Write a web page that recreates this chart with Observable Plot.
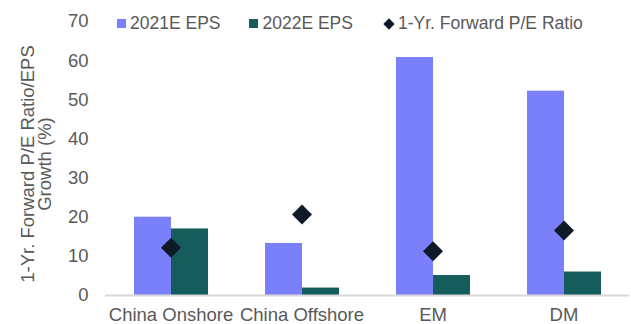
<!DOCTYPE html>
<html>
<head>
<meta charset="utf-8">
<script src="https://cdn.jsdelivr.net/npm/d3@7"></script>
<script src="https://cdn.jsdelivr.net/npm/@observablehq/plot@0.6"></script>
<style>
  body { margin: 0; background: #fff; }
  #wrap { position: relative; width: 631px; height: 324px; font-family: "Liberation Sans", Arial, sans-serif; }
  #legend { position: absolute; top: 13px; left: 117px; display: flex; align-items: center; font-size: 17.5px; color: #595959; white-space: nowrap; }
  .item { display: flex; align-items: center; margin-right: 29px; }
  .sw { width: 9px; height: 9px; margin-right: 4px; }
  .dia { width: 8px; height: 8px; transform: rotate(45deg); margin: 0 5px 0 3px; }
  #ylabel { position: absolute; left: 36px; top: 164px; transform: translate(-50%, -50%) rotate(-90deg); text-align: center; font-size: 18.5px; line-height: 17px; color: #595959; white-space: nowrap; }
</style>
</head>
<body>
<div id="wrap"></div>
<script>
const categories = ["China Onshore", "China Offshore", "EM", "DM"];
const seriesNames = ["2021E EPS", "2022E EPS"];
const eps2021 = [20.0, 13.3, 60.8, 52.2];
const eps2022 = [17.0, 1.9, 5.1, 6.0];
const forwardPE = [12.2, 20.7, 11.3, 16.6];
const peName = "1-Yr. Forward P/E Ratio";
const yLabelLines = ["1-Yr. Forward P/E Ratio/EPS", "Growth (%)"];
const yTicks = [0, 10, 20, 30, 40, 50, 60, 70];
const colors = ["#7a80fa", "#155c5c"];
const peColor = "#0e1a28";

const bars = [];
categories.forEach((c, i) => {
  bars.push({category: c, series: seriesNames[0], value: eps2021[i]});
  bars.push({category: c, series: seriesNames[1], value: eps2022[i]});
});
const pe = categories.map((c, i) => ({category: c, value: forwardPE[i]}));

const chart = Plot.plot({
  width: 631,
  height: 324,
  marginLeft: 104,
  marginRight: 1,
  marginTop: 21,
  marginBottom: 29,
  style: {fontFamily: '"Liberation Sans", Arial, sans-serif', fontSize: "18.5px", color: "#595959", background: "#fff"},
  fx: {domain: categories, padding: 0, label: null},
  x: {domain: seriesNames, paddingInner: 0, paddingOuter: 0.73, axis: null},
  y: {domain: [0, 70], ticks: yTicks},
  color: {domain: seriesNames, range: colors},
  marks: [
    Plot.barY(bars, {fx: "category", x: "series", y: "value", fill: "series"}),
    Plot.ruleY([0], {stroke: "#d9d9d9", strokeWidth: 2}),
    Plot.dot(pe, {fx: "category", y: "value", symbol: "diamond2", r: 9, fill: peColor, stroke: "none"}),
    Plot.axisY(yTicks, {tickSize: 0, tickPadding: 17, fontSize: 18.5, fill: "#595959", label: null}),
    Plot.axisFx({anchor: "bottom", tickSize: 0, tickPadding: 12, fontSize: 18.5, fill: "#595959", label: null})
  ]
});
const wrap = document.getElementById("wrap");
wrap.appendChild(chart);

const yl = document.createElement("div");
yl.id = "ylabel";
yl.innerHTML = yLabelLines.join("<br>");
wrap.appendChild(yl);

const legend = document.createElement("div");
legend.id = "legend";
seriesNames.forEach((s, i) => {
  const it = document.createElement("div");
  it.className = "item";
  const sw = document.createElement("span");
  sw.className = "sw";
  sw.style.background = colors[i];
  it.appendChild(sw);
  it.appendChild(document.createTextNode(s));
  legend.appendChild(it);
});
const it = document.createElement("div");
it.className = "item";
const d = document.createElement("span");
d.className = "dia";
d.style.background = peColor;
it.appendChild(d);
it.appendChild(document.createTextNode(peName));
legend.appendChild(it);
wrap.appendChild(legend);
</script>
</body>
</html>
